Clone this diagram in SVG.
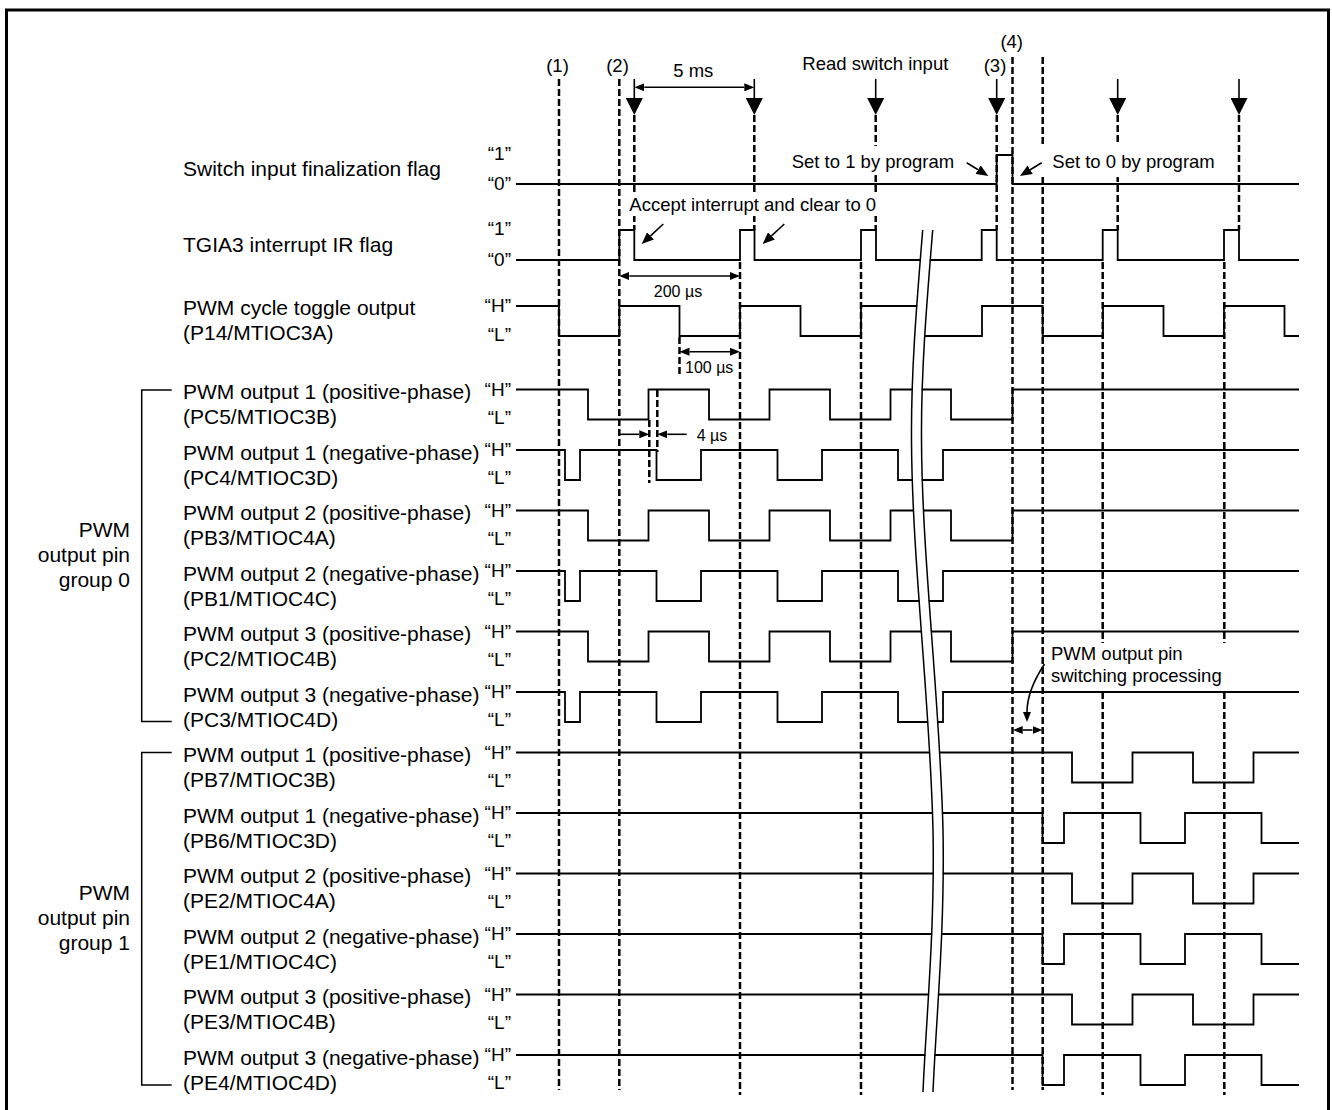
<svg xmlns="http://www.w3.org/2000/svg" width="1332" height="1110" viewBox="0 0 1332 1110">
<style>
text{font-family:"Liberation Sans",Arial,sans-serif;fill:#000}
.lbl{font-size:21px}
.ann{font-size:18.5px}
.q{font-size:19px;text-anchor:end}
.us{font-size:16px}
.mid{text-anchor:middle}
.end{text-anchor:end}
.sig{fill:none;stroke:#000;stroke-width:1.8;stroke-linejoin:miter}
.br{fill:none;stroke:#000;stroke-width:1.5}
.dash{fill:none;stroke:#000;stroke-width:2.5;stroke-dasharray:7 3}
.ln{fill:none;stroke:#000;stroke-width:1.6}
.mask{fill:#fff;stroke:none}
</style>
<defs>
<marker id="big" viewBox="0 0 17 17" refX="0" refY="8.5" markerWidth="17" markerHeight="17" markerUnits="userSpaceOnUse" orient="auto"><path d="M0,0 L17,8.5 L0,17 Z"/></marker>
<marker id="ah" viewBox="0 0 10 8" refX="0" refY="4" markerWidth="10" markerHeight="8" markerUnits="userSpaceOnUse" orient="auto-start-reverse"><path d="M0,0 L10,4 L0,8 Z"/></marker>
<marker id="ah2" viewBox="0 0 12 10" refX="0" refY="5" markerWidth="12" markerHeight="10" markerUnits="userSpaceOnUse" orient="auto"><path d="M0,0 L12,5 L0,10 Z"/></marker>
</defs>
<rect x="6.5" y="10" width="1322" height="1115" fill="#fff" stroke="#000" stroke-width="3"/>

<!-- top signals -->
<g id="sig-switch-flag">
<text class="lbl" x="183" y="176">Switch input finalization flag</text>
<text class="q" x="511" y="160">“1”</text>
<text class="q" x="511" y="190">“0”</text>
<path class="sig" d="M516,184 H996.7 V155 H1012.5 V184 H1299"/>
</g>
<g id="sig-tgia3">
<text class="lbl" x="183" y="252">TGIA3 interrupt IR flag</text>
<text class="q" x="511" y="235">“1”</text>
<text class="q" x="511" y="266">“0”</text>
<path class="sig" d="M516,260 H619.3 V230 H634.3 V260 H740 V230 H754.5 V260 H861 V230 H876 V260 H981.7 V230 H996.7 V260 H1102.7 V230 H1117.7 V260 H1224 V230 H1239 V260 H1299"/>
</g>
<g id="sig-toggle">
<text class="lbl" x="183" y="314.5">PWM cycle toggle output</text>
<text class="lbl" x="183" y="339.5">(P14/MTIOC3A)</text>
<text class="q" x="511" y="312">“H”</text>
<text class="q" x="511" y="341">“L”</text>
<path class="sig" d="M516,306 H559 V336 H619.3 V306 H679.5 V336 H740 V306 H800.5 V336 H861 V306 H921.5 V336 H982 V306 H1042.7 V336 H1103 V306 H1163.5 V336 H1224 V306 H1284.5 V336 H1299"/>
</g>

<!-- group 0 -->
<g id="group0">
<path class="br" d="M171.7,390 H141.7 V721.5 H171.7"/>
<text class="lbl end" x="130" y="537">PWM</text>
<text class="lbl end" x="130" y="562">output pin</text>
<text class="lbl end" x="130" y="587">group 0</text>
</g>
<g id="g0-row1">
<text class="lbl" x="183" y="399">PWM output 1 (positive-phase)</text>
<text class="lbl" x="183" y="424">(PC5/MTIOC3B)</text>
<text class="q" x="511" y="395.5">“H”</text><text class="q" x="511" y="423.5">“L”</text>
<path class="sig" d="M516,389.5 H588 V419.5 H648.5 V389.5 H709 V419.5 H769.5 V389.5 H830 V419.5 H890.5 V389.5 H951 V419.5 H1012.5 V389.5 H1299"/>
</g>
<g id="g0-row2">
<text class="lbl" x="183" y="459.5">PWM output 1 (negative-phase)</text>
<text class="lbl" x="183" y="484.5">(PC4/MTIOC3D)</text>
<text class="q" x="511" y="456">“H”</text><text class="q" x="511" y="484">“L”</text>
<path class="sig" d="M516,450 H565 V480 H580 V450 H656.5 V480 H701 V450 H777.5 V480 H822 V450 H898 V480 H943 V450 H1299"/>
</g>
<g id="g0-row3">
<text class="lbl" x="183" y="520">PWM output 2 (positive-phase)</text>
<text class="lbl" x="183" y="545">(PB3/MTIOC4A)</text>
<text class="q" x="511" y="516.5">“H”</text><text class="q" x="511" y="544.5">“L”</text>
<path class="sig" d="M516,510.5 H588 V540.5 H648.5 V510.5 H709 V540.5 H769.5 V510.5 H830 V540.5 H890.5 V510.5 H951 V540.5 H1012.5 V510.5 H1299"/>
</g>
<g id="g0-row4">
<text class="lbl" x="183" y="580.5">PWM output 2 (negative-phase)</text>
<text class="lbl" x="183" y="605.5">(PB1/MTIOC4C)</text>
<text class="q" x="511" y="577">“H”</text><text class="q" x="511" y="605">“L”</text>
<path class="sig" d="M516,571 H565 V601 H580 V571 H656.5 V601 H701 V571 H777.5 V601 H822 V571 H898 V601 H943 V571 H1299"/>
</g>
<g id="g0-row5">
<text class="lbl" x="183" y="641">PWM output 3 (positive-phase)</text>
<text class="lbl" x="183" y="666">(PC2/MTIOC4B)</text>
<text class="q" x="511" y="637.5">“H”</text><text class="q" x="511" y="665.5">“L”</text>
<path class="sig" d="M516,631.5 H588 V661.5 H648.5 V631.5 H709 V661.5 H769.5 V631.5 H830 V661.5 H890.5 V631.5 H951 V661.5 H1012.5 V631.5 H1299"/>
</g>
<g id="g0-row6">
<text class="lbl" x="183" y="701.5">PWM output 3 (negative-phase)</text>
<text class="lbl" x="183" y="726.5">(PC3/MTIOC4D)</text>
<text class="q" x="511" y="698">“H”</text><text class="q" x="511" y="726">“L”</text>
<path class="sig" d="M516,692 H565 V722 H580 V692 H656.5 V722 H701 V692 H777.5 V722 H822 V692 H898 V722 H943 V692 H1299"/>
</g>

<!-- group 1 -->
<g id="group1">
<path class="br" d="M171.7,752.5 H141.7 V1085 H171.7"/>
<text class="lbl end" x="130" y="900">PWM</text>
<text class="lbl end" x="130" y="925">output pin</text>
<text class="lbl end" x="130" y="950">group 1</text>
</g>
<g id="g1-row1">
<text class="lbl" x="183" y="762">PWM output 1 (positive-phase)</text>
<text class="lbl" x="183" y="787">(PB7/MTIOC3B)</text>
<text class="q" x="511" y="758.5">“H”</text><text class="q" x="511" y="786.5">“L”</text>
<path class="sig" d="M516,752.5 H1072 V782.5 H1132.5 V752.5 H1193 V782.5 H1253.5 V752.5 H1299"/>
</g>
<g id="g1-row2">
<text class="lbl" x="183" y="822.5">PWM output 1 (negative-phase)</text>
<text class="lbl" x="183" y="847.5">(PB6/MTIOC3D)</text>
<text class="q" x="511" y="819">“H”</text><text class="q" x="511" y="847">“L”</text>
<path class="sig" d="M516,813 H1042.5 V843 H1064 V813 H1140.5 V843 H1185 V813 H1261.5 V843 H1299"/>
</g>
<g id="g1-row3">
<text class="lbl" x="183" y="883">PWM output 2 (positive-phase)</text>
<text class="lbl" x="183" y="908">(PE2/MTIOC4A)</text>
<text class="q" x="511" y="879.5">“H”</text><text class="q" x="511" y="907.5">“L”</text>
<path class="sig" d="M516,873.5 H1072 V903.5 H1132.5 V873.5 H1193 V903.5 H1253.5 V873.5 H1299"/>
</g>
<g id="g1-row4">
<text class="lbl" x="183" y="943.5">PWM output 2 (negative-phase)</text>
<text class="lbl" x="183" y="968.5">(PE1/MTIOC4C)</text>
<text class="q" x="511" y="940">“H”</text><text class="q" x="511" y="968">“L”</text>
<path class="sig" d="M516,934 H1042.5 V964 H1064 V934 H1140.5 V964 H1185 V934 H1261.5 V964 H1299"/>
</g>
<g id="g1-row5">
<text class="lbl" x="183" y="1004">PWM output 3 (positive-phase)</text>
<text class="lbl" x="183" y="1029">(PE3/MTIOC4B)</text>
<text class="q" x="511" y="1000.5">“H”</text><text class="q" x="511" y="1028.5">“L”</text>
<path class="sig" d="M516,994.5 H1072 V1024.5 H1132.5 V994.5 H1193 V1024.5 H1253.5 V994.5 H1299"/>
</g>
<g id="g1-row6">
<text class="lbl" x="183" y="1064.5">PWM output 3 (negative-phase)</text>
<text class="lbl" x="183" y="1089.5">(PE4/MTIOC4D)</text>
<text class="q" x="511" y="1061">“H”</text><text class="q" x="511" y="1089">“L”</text>
<path class="sig" d="M516,1055 H1042.5 V1085 H1064 V1055 H1140.5 V1085 H1185 V1055 H1261.5 V1085 H1299"/>
</g>

<!-- time break -->
<g id="break">
<path d="M922.7,230 C917,300 911,370 911.5,440 C912,560 930,700 933,830 C935,930 926,1020 923,1092" transform="translate(5,0)" fill="none" stroke="#fff" stroke-width="9"/>
<path class="br" d="M922.7,230 C917,300 911,370 911.5,440 C912,560 930,700 933,830 C935,930 926,1020 923,1092"/>
<path class="br" d="M922.7,230 C917,300 911,370 911.5,440 C912,560 930,700 933,830 C935,930 926,1020 923,1092" transform="translate(10,0)"/>
</g>

<!-- connectors -->
<g id="connectors">
<path class="dash" d="M559,79 V1090 M619.3,79 V1090 M1012.5,57 V1090 M1042.7,57 V1090 M740,262 V1095 M861,262 V1095 M1102.7,262 V1095 M1224.3,262 V1095 M634.3,115 V230 M754.3,115 V230 M875.7,115 V230 M996.7,115 V230 M1117.7,115 V230 M1239,115 V230 M679.5,337 V377 M649.3,420 V483 M657.3,390 V452"/>
<g class="ln" marker-end="url(#big)">
<path d="M634.3,79 V98"/><path d="M754.3,79 V98"/><path d="M875.7,79 V98"/><path d="M996.7,79 V98"/><path d="M1117.7,79 V98"/><path d="M1239,79 V98"/>
</g>
<path class="ln" d="M644.3,87.3 H744.3" marker-start="url(#ah)" marker-end="url(#ah)"/>
<path class="ln" d="M629.3,276 H730" marker-start="url(#ah)" marker-end="url(#ah)"/>
<path class="ln" d="M689.5,351.7 H730" marker-start="url(#ah)" marker-end="url(#ah)"/>
<path class="ln" d="M619,434.3 H639.3" marker-end="url(#ah)"/>
<path class="ln" d="M686.7,434.3 H667.3" marker-end="url(#ah)"/>
<path class="ln" d="M1022.7,730 H1032.5" marker-start="url(#ah)" marker-end="url(#ah)"/>
</g>

<!-- masks behind annotation texts -->
<rect class="mask" x="626" y="193" width="254" height="23"/>
<rect class="mask" x="788" y="146" width="168" height="26"/>
<rect class="mask" x="1037" y="145" width="184" height="32"/>
<rect class="mask" x="1047" y="643" width="185" height="46"/>

<g id="annotations">
<text class="ann mid" x="557.5" y="72">(1)</text>
<text class="ann mid" x="617.5" y="72">(2)</text>
<text class="ann mid" x="995" y="72">(3)</text>
<text class="ann mid" x="1011.7" y="48">(4)</text>
<text class="ann mid" x="693.3" y="77">5 ms</text>
<text class="ann" x="802.3" y="70">Read switch input</text>
<text class="ann" x="791.7" y="168">Set to 1 by program</text>
<text class="ann" x="1052.3" y="168">Set to 0 by program</text>
<text class="ann" x="629.3" y="210.5">Accept interrupt and clear to 0</text>
<text class="us mid" x="678" y="297">200 µs</text>
<text class="us" x="685" y="373">100 µs</text>
<text class="us" x="696.7" y="440.5">4 µs</text>
<text class="ann" x="1051" y="660">PWM output pin</text>
<text class="ann" x="1051" y="682">switching processing</text>
<g class="ln" marker-end="url(#ah2)">
<path d="M966.7,162.7 L978.1,169.7"/>
<path d="M1041.7,162.7 L1030.2,169.7"/>
<path d="M663.3,224 L650.5,235.8"/>
<path d="M784.3,224 L771.5,235.8"/>
</g>
<path class="ln" d="M1044.5,664 C1034,680 1027,695 1027,712" marker-end="url(#ah)"/>
</g>
</svg>
